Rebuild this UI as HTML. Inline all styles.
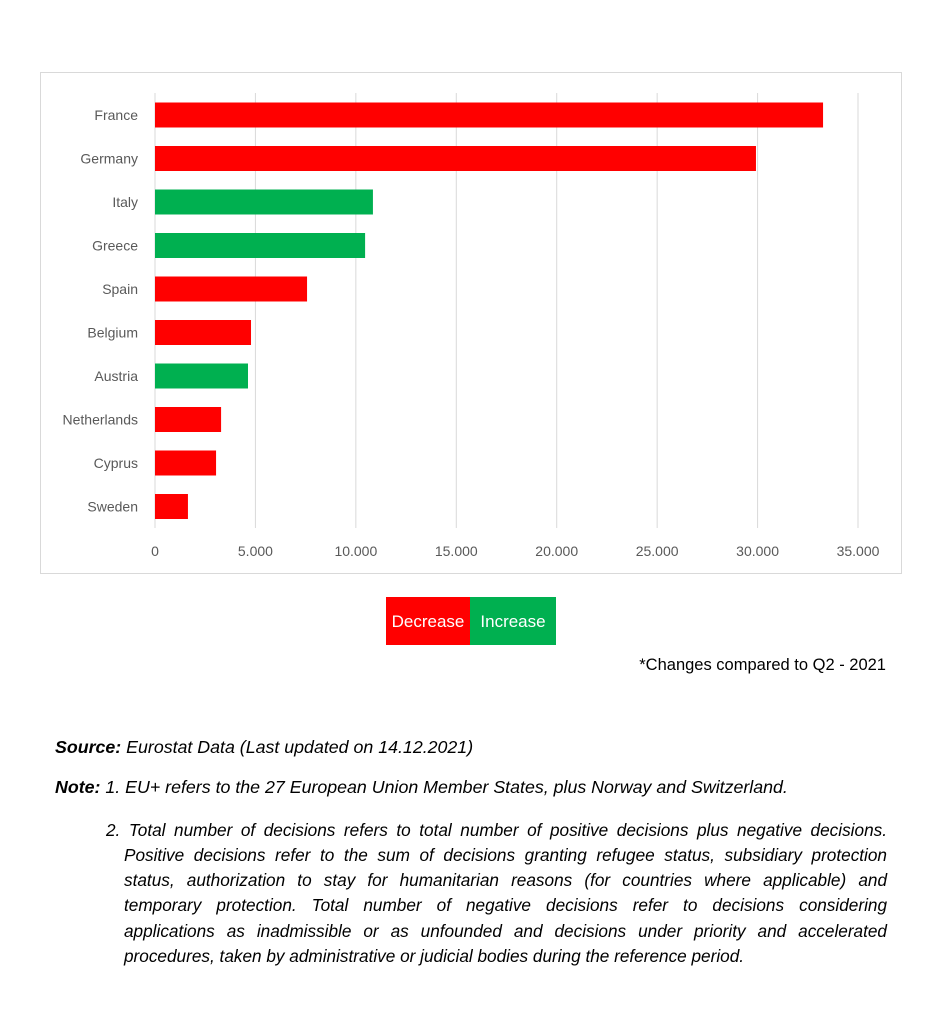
<!DOCTYPE html>
<html><head><meta charset="utf-8"><style>
body{margin:0;width:943px;height:1024px;background:#fff;font-family:"Liberation Sans",sans-serif;position:relative;overflow:hidden}
#box{position:absolute;left:40px;top:72px;width:860px;height:500px;border:1px solid #d9d9d9}
.t{position:absolute;font-style:italic;font-size:17.8px;color:#000;white-space:nowrap}
.ln{position:absolute;font-style:italic;font-size:17.2px;color:#000;text-align:justify;text-align-last:justify;white-space:nowrap;overflow:visible}
.ln.j{white-space:normal}
</style></head><body>
<div id="box"></div>
<svg id="chart" width="943" height="600" style="position:absolute;left:0;top:0"></svg>
<div style="position:absolute;left:386px;top:597px;height:48px;display:flex;color:#fff;font-size:17px">
<div style="width:84px;background:#ff0000;line-height:50px;text-align:center">Decrease</div>
<div style="width:86px;background:#00b050;line-height:50px;text-align:center">Increase</div>
</div>
<div style="position:absolute;right:57px;top:656px;font-size:16.5px">*Changes compared to Q2 - 2021</div>
<div class="t" style="left:55px;top:737px"><b>Source:</b> Eurostat Data (Last updated on 14.12.2021)</div>
<div class="t" style="left:55px;top:777px"><b>Note:</b> 1. EU+ refers to the 27 European Union Member States, plus Norway and Switzerland.</div>
<div>
<div class="ln j" style="left:106px;top:820px;width:781px">2. Total number of decisions refers to total number of positive decisions plus negative decisions.</div>
<div class="ln j" style="left:124px;top:845px;width:763px">Positive decisions refer to the sum of decisions granting refugee status, subsidiary protection</div>
<div class="ln j" style="left:124px;top:870px;width:763px">status, authorization to stay for humanitarian reasons (for countries where applicable) and</div>
<div class="ln j" style="left:124px;top:895px;width:763px">temporary protection. Total number of negative decisions refer to decisions considering</div>
<div class="ln j" style="left:124px;top:921px;width:763px">applications as inadmissible or as unfounded and decisions under priority and accelerated</div>
<div class="ln" style="left:124px;top:946px;text-align-last:auto">procedures, taken by administrative or judicial bodies during the reference period.</div>
</div>
<script>
const categories=["France","Germany","Italy","Greece","Spain","Belgium","Austria","Netherlands","Cyprus","Sweden"];
const values=[33260,29920,10850,10460,7570,4780,4630,3290,3040,1640];
const changes=["dec","dec","inc","inc","dec","dec","inc","dec","dec","dec"];
const ticks=[0,5000,10000,15000,20000,25000,30000,35000];
const tickLabels=["0","5.000","10.000","15.000","20.000","25.000","30.000","35.000"];
const svg=document.getElementById('chart');const NS='http://www.w3.org/2000/svg';
const x0=155,x1=858,xmax=35000,yTop=93,step=43.5;
const xs=v=>x0+(x1-x0)*v/xmax;
const yc=i=>yTop+22+i*step;
function mk(t,a){const e=document.createElementNS(NS,t);for(const k in a)e.setAttribute(k,a[k]);svg.appendChild(e);return e;}
ticks.forEach((v,i)=>{
 const l=mk('line',{x1:xs(v),x2:xs(v),y1:yTop,y2:528,stroke:'#d9d9d9','stroke-width':1});
 
 
 const t=mk('text',{x:xs(v),y:556,'text-anchor':'middle','font-size':14,fill:'#595959'});t.textContent=tickLabels[i];
 
 
});
categories.forEach((c,i)=>{
 const r=mk('rect',{x:x0,y:yc(i)-12.5,width:xs(values[i])-x0,height:25,fill:changes[i]==='inc'?'#00b050':'#ff0000'});
 
 
 const t=mk('text',{x:138,y:yc(i)+5,'text-anchor':'end','font-size':14,fill:'#595959'});t.textContent=c;
 
 
});
</script>
</body></html>
